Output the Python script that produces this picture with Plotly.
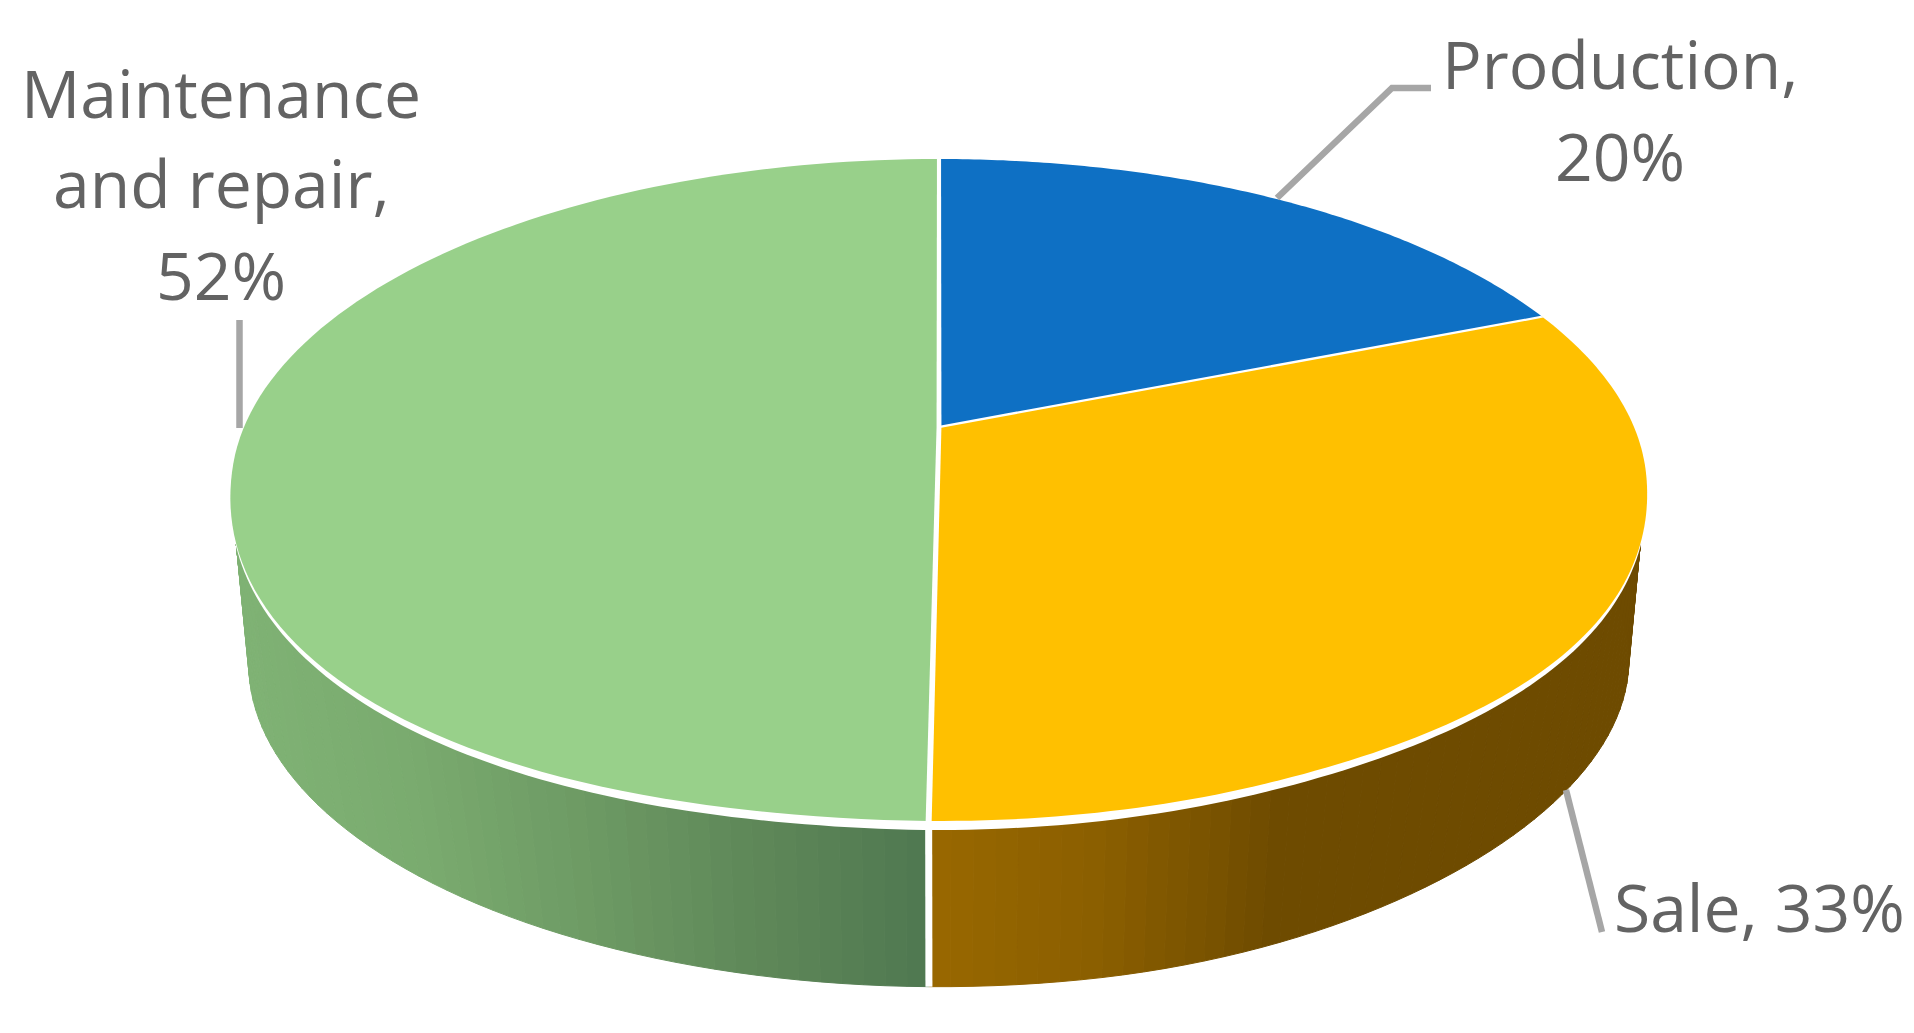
import numpy as np
import plotly.graph_objects as go

# Data
categories = ["Production", "Sale", "Maintenance and repair"]
shares = [19.8, 32.6, 52.0]
top_colors = ["#0E70C4", "#FFC000", "#98D08A"]
label_lines = [["Production,", "{}%"], ["Sale, {}%"], ["Maintenance", "and repair,", "{}%"]]

# Where the labels and their leader lines sit on the page
label_x = [1620, 1759, 221]
label_baselines = [[88, 180], [931], [117, 207, 299]]
leader_x = [[1277, 1392, 1431], [1566, 1602], [239.5, 239.5]]
leader_y = [[198, 88, 88], [790, 932], [320, 428]]

# Side wall shading, left to right across the visible wall
wall_stops = {
    "Sale": ["#996800", "#8A5E00", "#6E4B00", "#6E4B00", "#6E4B00"],
    "Maintenance and repair": ["#7FB274", "#7AAB6F", "#6D9A64", "#5E8758", "#4F7850"],
}

# Perspective disc: apex of the slices and the look of the tilted circle
CX, CY = 939, 427
A, B, K = 695, 319, 0.1903
WALL_SCALE, WALL_CY = 0.975, 664
TOP_CY = (159 + 821) / 2
RIM_GAP = 9
WALL_TOP_FROM, WALL_TOP_TO = 110, 250
TEXT_COLOR = "#636363"
LEADER_COLOR = "#A6A6A6"
FONT = "Open Sans"
FONT_SIZE = 66


def project(theta):
    # theta in degrees, clockwise from the far side of the disc
    t = np.radians(theta)
    X, Y = np.sin(t), np.cos(t)
    w = 1 + K * Y
    return CX + A * X / w, CY - B * Y / w


def bump(theta, start, end, px):
    # the near side of the disc in the picture is not a clean ellipse
    u = np.clip((np.asarray(theta, dtype=float) - start) / (end - start), 0, 1)
    return px * np.sin(np.pi * u) ** 2


def push_out(x, y, cy, extra):
    dx, dy = x - CX, y - cy
    d = np.hypot(dx, dy)
    return x + dx / d * extra, y + dy / d * extra


def top_rim(theta):
    x, y = project(theta)
    return push_out(x, y, TOP_CY, bump(theta, 98, 158, 8) + bump(theta, 185, 264, 15))


def bottom_rim(theta):
    x, y = project(theta)
    x, y = CX + WALL_SCALE * (x - CX), WALL_CY + WALL_SCALE * (y - TOP_CY)
    return push_out(x, y, WALL_CY, bump(theta, 95, 170, -8))


def hex_mix(stops, f):
    rgb = [[int(c[i:i + 2], 16) for i in (1, 3, 5)] for c in stops]
    pos = np.linspace(0, 1, len(stops))
    return "rgb({:.0f},{:.0f},{:.0f})".format(*[np.interp(f, pos, [c[j] for c in rgb]) for j in range(3)])


edges = np.concatenate([[0], np.cumsum(shares)]) / sum(shares) * 360

fig = go.Figure()


def add_poly(x, y, color, line_width=0):
    fig.add_trace(go.Scatter(x=x, y=y, mode="lines", fill="toself", fillcolor=color,
                             line=dict(color=color, width=line_width, simplify=False), hoverinfo="skip"))


# side wall, drawn in thin strips to get the gradient
wall_left, wall_right = bottom_rim(270)[0], bottom_rim(90)[0]
sale_end = edges[2]
for name, a0, a1, x0, x1 in [("Sale", 85, sale_end, bottom_rim(sale_end)[0], wall_right),
                             ("Maintenance and repair", sale_end, 275, wall_left, bottom_rim(sale_end)[0])]:
    steps = np.linspace(a0, a1, int(abs(a1 - a0) / 1.5) + 2)
    for s0, s1 in zip(steps[:-1], steps[1:]):
        # the top edge stops short of the sides, the strips fan out from there
        tx0, ty0 = top_rim(np.clip(s0, WALL_TOP_FROM, WALL_TOP_TO))
        tx1, ty1 = top_rim(np.clip(s1, WALL_TOP_FROM, WALL_TOP_TO))
        bx0, by0 = bottom_rim(s0)
        bx1, by1 = bottom_rim(s1)
        f = np.clip(((bx0 + bx1) / 2 - x0) / (x1 - x0), 0, 1)
        add_poly([tx0, tx1, bx1, bx0, tx0], [ty0, ty1, by1, by0, ty0], hex_mix(wall_stops[name], f), 1)

# white seam on the wall between the two front slices
tx, ty = top_rim(sale_end)
bx, by = bottom_rim(sale_end)
fig.add_trace(go.Scatter(x=[tx, bx], y=[ty, by], mode="lines", line=dict(color="white", width=7),
                         hoverinfo="skip"))

# white rim, a bit lower than the top face on the near side
ring = np.linspace(0, 360, 361)
rx, ry = top_rim(ring)
add_poly(rx, ry + RIM_GAP * np.clip(-np.cos(np.radians(ring)), 0, None), "white")

# top face
for start, end, color in zip(edges[:-1], edges[1:], top_colors):
    arc = np.linspace(start, end, 120)
    ax, ay = top_rim(arc)
    add_poly(np.r_[CX, ax, CX], np.r_[CY, ay, CY], color)

# white seams on the top face, wider towards the viewer
for e in edges[:-1]:
    t = np.radians(e)
    nx, ny = np.cos(t) * 0.0035, -np.sin(t) * 0.0035
    X, Y = np.sin(t), np.cos(t)
    wx = np.array([nx, X + nx, X - nx, -nx, nx])
    wy = np.array([ny, Y + ny, Y - ny, -ny, ny])
    w = 1 + K * wy
    add_poly(CX + A * wx / w, CY - B * wy / w, "white")

# leader lines
for lx, ly in zip(leader_x, leader_y):
    fig.add_trace(go.Scatter(x=lx, y=ly, mode="lines", line=dict(color=LEADER_COLOR, width=6.5),
                             hoverinfo="skip"))

# labels, one annotation a line so the spacing can follow the picture
for lines, value, x, baselines in zip(label_lines, shares, label_x, label_baselines):
    for text, base in zip(lines, baselines):
        fig.add_annotation(x=x, y=base, text=text.format(round(value)), showarrow=False,
                           xanchor="center", yanchor="bottom", yshift=-22,
                           font=dict(family=FONT, size=FONT_SIZE, color=TEXT_COLOR))

fig.update_layout(
    width=1914, height=1033,
    margin=dict(l=0, r=0, t=0, b=0),
    paper_bgcolor="white", plot_bgcolor="white",
    showlegend=False,
    xaxis=dict(range=[0, 1914], visible=False),
    yaxis=dict(range=[1033, 0], visible=False),
)

fig.write_html("out.html", config=dict(displayModeBar=False),
               post_script="document.body.style.margin='0';")
